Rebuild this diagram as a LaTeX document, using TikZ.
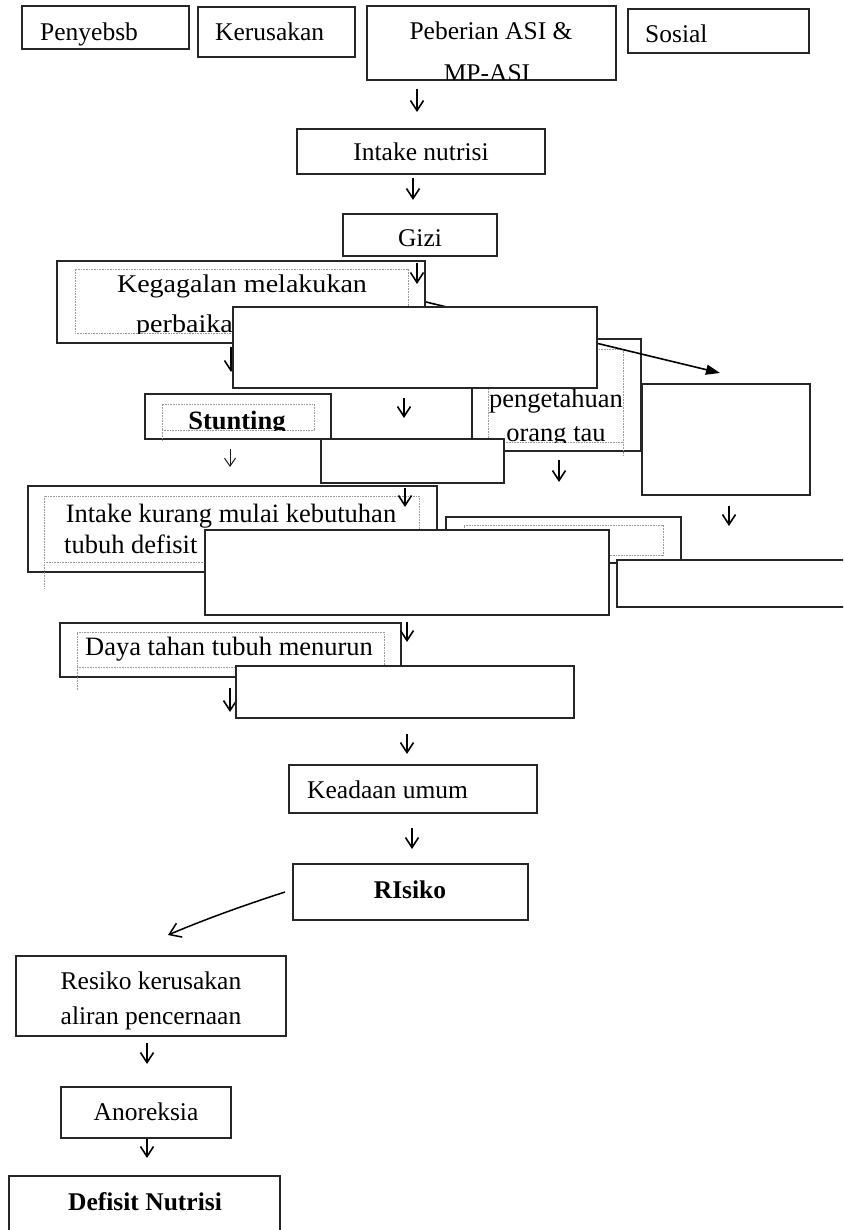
\documentclass[tikz,border=0pt]{standalone}
\usepackage{fontspec}
\setmainfont{Liberation Serif}
\newfontfamily\widefont[FakeStretch=1.1]{Liberation Serif}
\usetikzlibrary{arrows.meta}
\newcommand{\fn}{\fontsize{25.5}{30}\selectfont}
\newcommand{\fm}{\fontsize{26.5}{31}\selectfont}
\begin{document}
\begin{tikzpicture}[x=1pt,y=-1pt,
 bx/.style={draw=black!85, line width=1.8pt, fill=white, inner sep=0pt, outer sep=0pt, anchor=north west},
 dbx/.style={draw=black!40, dash pattern=on 0.8pt off 0.8pt, line width=0.8pt, inner sep=0pt, outer sep=0pt, anchor=north west},
 tc/.style={inner sep=0pt, anchor=base, font=\fn, text=black},
 tl/.style={tc, anchor=base west},
 ar/.style={draw=black, line width=1.6pt, -{Straight Barb[length=10pt,width=13pt]}},
 arthin/.style={draw=black!90, line width=1pt, -{Straight Barb[length=8pt,width=11pt]}},
 dl/.style={draw=black!40, dash pattern=on 0.8pt off 0.8pt, line width=0.8pt},
]
\clip (0,0) rectangle (843,1230);
\fill[white] (0,0) rectangle (843,1230);

% top row
\node[bx, minimum width=167pt, minimum height=43pt] (peny) at (22,6) {};
\node[tl] (tpeny) at (40,41) {Penyebsb};
\node[bx, minimum width=157pt, minimum height=50pt] (keru) at (198,7) {};
\node[tl] (tkeru) at (215,41) {Kerusakan};
\node[bx, minimum width=249pt, minimum height=74pt] (pebe) at (367,6) {};
\node[tc] (tpebe1) at (491,40) {Peberian ASI \&};
\begin{scope}
\clip (367,6) rectangle (616,79.3);
\node[tc] (tpebe2) at (487,82) {MP-ASI};
\end{scope}
\node[bx, minimum width=181pt, minimum height=44pt] (sos) at (628,9) {};
\node[tl] (tsos) at (645,43) {Sosial};

\coordinate (a1s) at (417,89); \coordinate (a1e) at (417,112);
\draw[ar] (a1s) -- (a1e);

\node[bx, minimum width=248pt, minimum height=45pt] (intake) at (297,129) {};
\node[tc] (tintake) at (421,161) {Intake nutrisi};
\coordinate (a2s) at (413,178); \coordinate (a2e) at (413,200);
\draw[ar] (a2s) -- (a2e);

\node[bx, minimum width=154pt, minimum height=42pt] (gizi) at (343,214) {};
\node[tc] (tgizi) at (420,247) {Gizi};

% Kegagalan
\node[bx, minimum width=368pt, minimum height=82pt] (keg) at (57,261) {};
\node[dbx, minimum width=333pt, minimum height=64pt] (kegd) at (75,269) {};
\node[tc, font=\widefont\fn] (tkeg1) at (242,292) {Kegagalan melakukan};
\begin{scope}
\clip (kegd.north west) rectangle (kegd.south east);
\node[tl, font=\widefont\fn] (tkeg2) at (136,332) {perbaikan};
\end{scope}
\coordinate (a3s) at (417,263); \coordinate (a3e) at (417,284);
\draw[ar] (a3s) -- (a3e);

% Stunting
\node[bx, minimum width=186pt, minimum height=45pt] (stunt) at (145,394) {};
\node[dbx, minimum width=152pt, minimum height=26pt] (stuntd) at (162,404) {};
\draw[dl] (stuntd.south west) -- ++(0,10);
\begin{scope}
\clip (stuntd.north west) ++(0,-20) rectangle (stuntd.south east);
\node[tc, font=\fm\bfseries] (tstunt) at (237,429) {Stunting};
\end{scope}

% pengetahuan
\node[bx, minimum width=169pt, minimum height=112pt] (peng) at (472,339) {};
\node[dbx, minimum width=135pt, minimum height=93pt] (pengd) at (488,349) {};
\draw[dl] (pengd.south east) -- ++(0,13);
\begin{scope}
\clip (pengd.north west) rectangle (pengd.south east);
\node[tc, font=\fm] (tpeng1) at (556,407) {pengetahuan};
\node[tc, font=\fm] (tpeng2) at (556,441) {orang tau};
\end{scope}

% long arrow
\coordinate (las) at (426,302); \coordinate (lae) at (720,373);
\draw[draw=black, line width=1.6pt, -{Triangle[length=14pt,width=10pt]}] (las) -- (lae);

\coordinate (a4s) at (231,347); \coordinate (a4e) at (231,372);
\draw[ar] (a4s) -- (a4e);

\node[bx, minimum width=364pt, minimum height=81pt] (w1) at (233,307) {};
\coordinate (a5s) at (404,398); \coordinate (a5e) at (404,418);
\draw[ar] (a5s) -- (a5e);
\node[bx, minimum width=168pt, minimum height=111pt] (w2) at (642,384) {};
\node[bx, minimum width=183pt, minimum height=44pt] (w3) at (321,439) {};

\coordinate (a6s) at (230,449); \coordinate (a6e) at (230,467);
\draw[arthin] (a6s) -- (a6e);
\coordinate (a7s) at (559,460); \coordinate (a7e) at (559,482);
\draw[ar] (a7s) -- (a7e);
\coordinate (a8s) at (729,506); \coordinate (a8e) at (729,526);
\draw[ar] (a8s) -- (a8e);

% Intake kurang
\node[bx, minimum width=409pt, minimum height=86pt] (ik) at (28,486) {};
\node[dbx, minimum width=375pt, minimum height=66pt] (ikd) at (44,496) {};
\draw[dl] (ikd.south west) -- ++(0,26);
\node[tc, font=\fm] (tik1) at (231,522) {Intake kurang mulai kebutuhan};
\node[tl, font=\fm] (tik2) at (64,553) {tubuh defisit};
\coordinate (a9s) at (405,488); \coordinate (a9e) at (405,507);
\draw[ar] (a9s) -- (a9e);

% lower right box
\node[bx, minimum width=235pt, minimum height=46pt] (lr) at (446,517) {};
\node[dbx, minimum width=199pt, minimum height=30pt] (lrd) at (464,525) {};

\node[bx, minimum width=404pt, minimum height=85pt] (w4) at (205,530) {};
\node[bx, minimum width=243pt, minimum height=47pt] (w5) at (617,560) {};

% Daya tahan
\node[bx, minimum width=341pt, minimum height=54pt] (daya) at (60,623) {};
\node[dbx, minimum width=307pt, minimum height=35pt] (dayad) at (77,632) {};
\draw[dl] (dayad.south west) -- ++(0,23);
\node[tl, font=\fm] (tdaya) at (85,655) {Daya tahan tubuh menurun};
\coordinate (a10s) at (407,622); \coordinate (a10e) at (407,642);
\draw[ar] (a10s) -- (a10e);
\coordinate (a11s) at (230,688); \coordinate (a11e) at (230,712);
\draw[ar] (a11s) -- (a11e);

\node[bx, minimum width=338pt, minimum height=52pt] (w6) at (236,666) {};
\coordinate (a12s) at (407,734); \coordinate (a12e) at (407,754);
\draw[ar] (a12s) -- (a12e);

% Keadaan umum
\node[bx, minimum width=248pt, minimum height=48pt] (kead) at (289,765) {};
\node[tl] (tkead) at (307,798) {Keadaan umum};
\coordinate (a13s) at (412,828); \coordinate (a13e) at (412,849);
\draw[ar] (a13s) -- (a13e);

% RIsiko
\node[bx, minimum width=235pt, minimum height=56pt] (ris) at (293,864) {};
\node[tc, font=\fn\bfseries] (tris) at (410,898) {RIsiko};
\coordinate (ds) at (285,892); \coordinate (de) at (168,935);
\draw[draw=black, line width=1.5pt, -{Straight Barb[length=11pt,width=15pt]}] (ds) .. controls (248,904) and (208,918) .. (de);

% Resiko
\node[bx, minimum width=270pt, minimum height=80pt] (res) at (16,956) {};
\node[tc] (tres1) at (151,989) {Resiko kerusakan};
\node[tc] (tres2) at (151,1024) {aliran pencernaan};
\coordinate (a14s) at (147,1043); \coordinate (a14e) at (147,1064);
\draw[ar] (a14s) -- (a14e);

\node[bx, minimum width=170pt, minimum height=51pt] (ano) at (61,1087) {};
\node[tc] (tano) at (146,1120) {Anoreksia};
\coordinate (a15s) at (147,1139); \coordinate (a15e) at (147,1158);
\draw[ar] (a15s) -- (a15e);

\node[bx, minimum width=271pt, minimum height=70pt] (def) at (9,1176) {};
\node[tc, font=\fn\bfseries] (tdef) at (145,1210) {Defisit Nutrisi};
\end{tikzpicture}
\end{document}
